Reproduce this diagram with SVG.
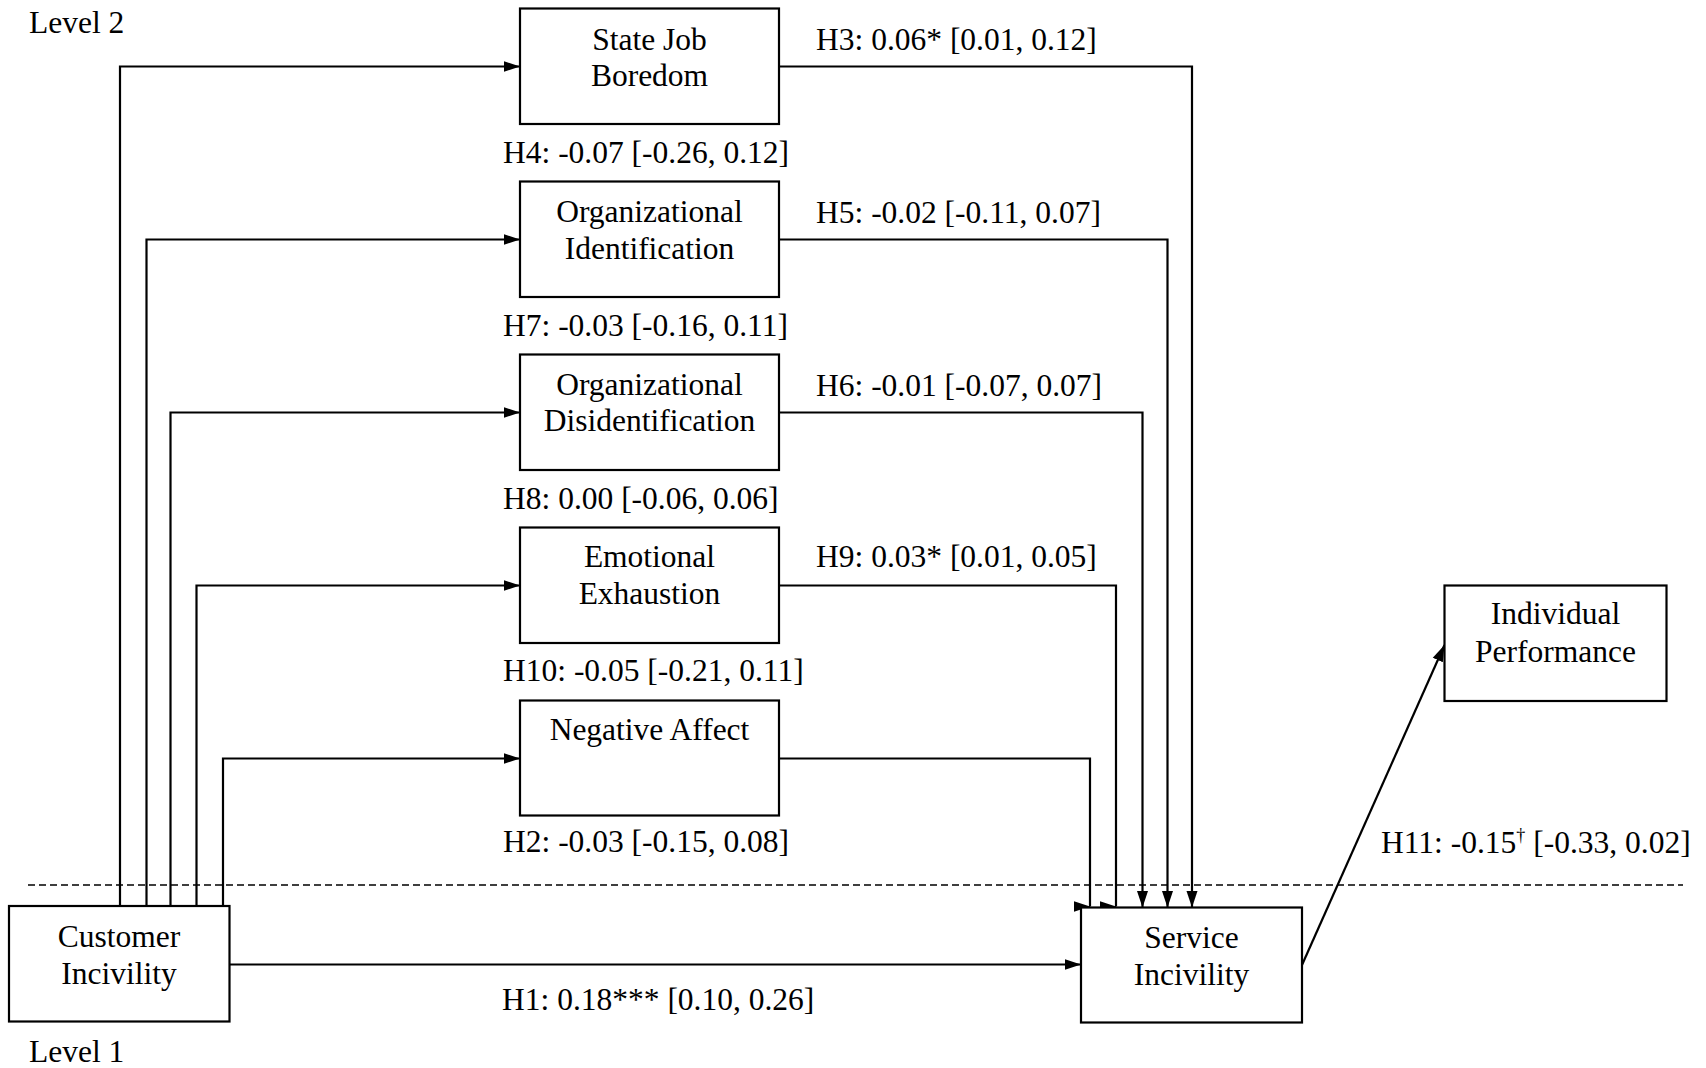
<svg xmlns="http://www.w3.org/2000/svg" width="1706" height="1068" viewBox="0 0 1706 1068">
<style>
text{font-family:"Liberation Serif","Times New Roman",serif;font-size:31.5px;fill:#000}
.c{text-anchor:middle}
.box{fill:#fff;stroke:#000;stroke-width:2.2}
.ar{fill:none;stroke:#000;stroke-width:2.2;marker-end:url(#ah)}
.dash{fill:none;stroke:#000;stroke-width:1.3;stroke-dasharray:7 4}
</style>
<defs>
<marker id="ah" markerUnits="userSpaceOnUse" markerWidth="18" markerHeight="14" viewBox="0 0 18 14" refX="16.5" refY="7" orient="auto">
<path d="M0,1.5 L16.5,7 L0,12.5 Z" fill="#000"/>
</marker>
</defs>
<rect width="1706" height="1068" fill="#fff"/>
<text x="29" y="33">Level 2</text>
<text x="29" y="1062">Level 1</text>
<line class="dash" x1="28" y1="885" x2="1683" y2="885"/>
<g id="connectors">
<path class="ar" d="M120,906 V66.5 H520"/>
<path class="ar" d="M146.5,906 V239.5 H520"/>
<path class="ar" d="M170.5,906 V412.5 H520"/>
<path class="ar" d="M196.5,906 V585.5 H520"/>
<path class="ar" d="M223,906 V758.5 H520"/>
<path class="ar" d="M779,66.5 H1192 V907.5"/>
<path class="ar" d="M779,239.5 H1167.5 V907.5"/>
<path class="ar" d="M779,412.5 H1142.5 V907.5"/>
<path class="ar" d="M779,585.5 H1116 V906.5 h0.01"/>
<path class="ar" d="M779,758.5 H1090 V906.5 h0.01"/>
<path class="ar" d="M229.5,964.5 H1081"/>
<path class="ar" d="M1302,965 L1444.5,645"/>
<text x="816" y="50">H3: 0.06* [0.01, 0.12]</text>
<text x="503" y="163">H4: -0.07 [-0.26, 0.12]</text>
<text x="816" y="223">H5: -0.02 [-0.11, 0.07]</text>
<text x="503" y="336">H7: -0.03 [-0.16, 0.11]</text>
<text x="816" y="396">H6: -0.01 [-0.07, 0.07]</text>
<text x="503" y="509">H8: 0.00 [-0.06, 0.06]</text>
<text x="816" y="567">H9: 0.03* [0.01, 0.05]</text>
<text x="503" y="681">H10: -0.05 [-0.21, 0.11]</text>
<text x="503" y="852">H2: -0.03 [-0.15, 0.08]</text>
<text x="502" y="1009.5">H1: 0.18*** [0.10, 0.26]</text>
<text x="1381" y="853">H11: -0.15<tspan dy="-12" font-size="18">†</tspan><tspan dy="12"> [-0.33, 0.02]</tspan></text>
</g>
<g id="state-job-boredom">
<rect class="box" x="520" y="8.5" width="259" height="115.5"/>
<text class="c" x="649.5" y="49.5">State Job</text>
<text class="c" x="649.5" y="86">Boredom</text>
</g>
<g id="organizational-identification">
<rect class="box" x="520" y="181.5" width="259" height="115.5"/>
<text class="c" x="649.5" y="222">Organizational</text>
<text class="c" x="649.5" y="258.5">Identification</text>
</g>
<g id="organizational-disidentification">
<rect class="box" x="520" y="354.5" width="259" height="115.5"/>
<text class="c" x="649.5" y="394.5">Organizational</text>
<text class="c" x="649.5" y="431">Disidentification</text>
</g>
<g id="emotional-exhaustion">
<rect class="box" x="520" y="527.5" width="259" height="115.5"/>
<text class="c" x="649.5" y="567">Emotional</text>
<text class="c" x="649.5" y="603.5">Exhaustion</text>
</g>
<g id="negative-affect">
<rect class="box" x="520" y="700.5" width="259" height="115"/>
<text class="c" x="649.5" y="740">Negative Affect</text>
</g>
<g id="customer-incivility">
<rect class="box" x="9" y="906" width="220.5" height="115.5"/>
<text class="c" x="119" y="946.5">Customer</text>
<text class="c" x="119" y="983.5">Incivility</text>
</g>
<g id="service-incivility">
<rect class="box" x="1081" y="907.5" width="221" height="115"/>
<text class="c" x="1191.5" y="947.5">Service</text>
<text class="c" x="1191.5" y="984.5">Incivility</text>
</g>
<g id="individual-performance">
<rect class="box" x="1444.5" y="585.5" width="222" height="115.5"/>
<text class="c" x="1555.5" y="624">Individual</text>
<text class="c" x="1555.5" y="661.5">Performance</text>
</g>
</svg>
